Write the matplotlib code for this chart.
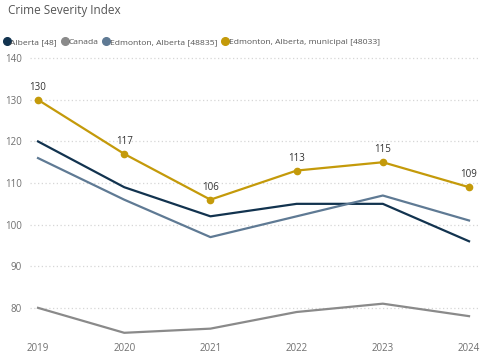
import matplotlib
matplotlib.use("Agg")
import matplotlib.pyplot as plt
from matplotlib.lines import Line2D

years = [2019, 2020, 2021, 2022, 2023, 2024]
alberta = [120, 109, 102, 105, 105, 96]
canada = [80, 74, 75, 79, 81, 78]
edmonton = [116, 106, 97, 102, 107, 101]
edmonton_muni = [130, 117, 106, 113, 115, 109]
series_names = ["Alberta [48]", "Canada", "Edmonton, Alberta [48835]", "Edmonton, Alberta, municipal [48033]"]
colors = ["#12334f", "#8a8a8a", "#5f7a94", "#c49a0a"]
yticks = [80, 90, 100, 110, 120, 130, 140]

plt.rcParams['font.family'] = ['Open Sans', 'DejaVu Sans']

fig = plt.figure(figsize=(5, 3.6), dpi=100)
ax = fig.add_axes([0.06, 0.064, 0.896, 0.78])

data = [alberta, canada, edmonton, edmonton_muni]
for vals, c, name in zip(data, colors, series_names):
    if name.endswith("[48033]"):
        ax.plot(years, vals, color=c, lw=1.6, marker='o', ms=4.5, zorder=4)
        for x, v in zip(years, vals):
            ax.annotate(str(v), (x, v), xytext=(0, 5), textcoords='offset points',
                        ha='center', va='bottom', fontsize=7, color='#333333')
    else:
        ax.plot(years, vals, color=c, lw=1.6, zorder=3)

ax.set_xlim(2018.907, 2024.104)
ax.set_ylim(73, 140.5)
ax.set_yticks(yticks)
ax.set_xticks(years)
ax.set_xticklabels([str(y) for y in years])
ax.grid(axis='y', linestyle=(0, (1, 2)), color='#d6d6d6', lw=0.9)
ax.set_axisbelow(True)
for s in ax.spines.values():
    s.set_visible(False)
ax.tick_params(length=0, labelsize=7, colors='#6f6f6f')
ax.tick_params(axis='y', pad=6)
ax.tick_params(axis='x', pad=4)

fig.text(0.016, 0.99, "Crime Severity Index", fontsize=8.5, color='#555555', ha='left', va='top')

handles = [Line2D([], [], marker='o', ls='none', color=c, ms=5.5) for c in colors]
leg = fig.legend(handles, series_names, loc='center left', bbox_to_anchor=(0.008, 0.883),
                 ncol=4, frameon=False, fontsize=6.1, handlelength=0.6, handletextpad=0.15,
                 columnspacing=0.6, borderaxespad=0, borderpad=0)
for t in leg.get_texts():
    t.set_color('#555555')

fig.savefig("out.png", dpi=100)
